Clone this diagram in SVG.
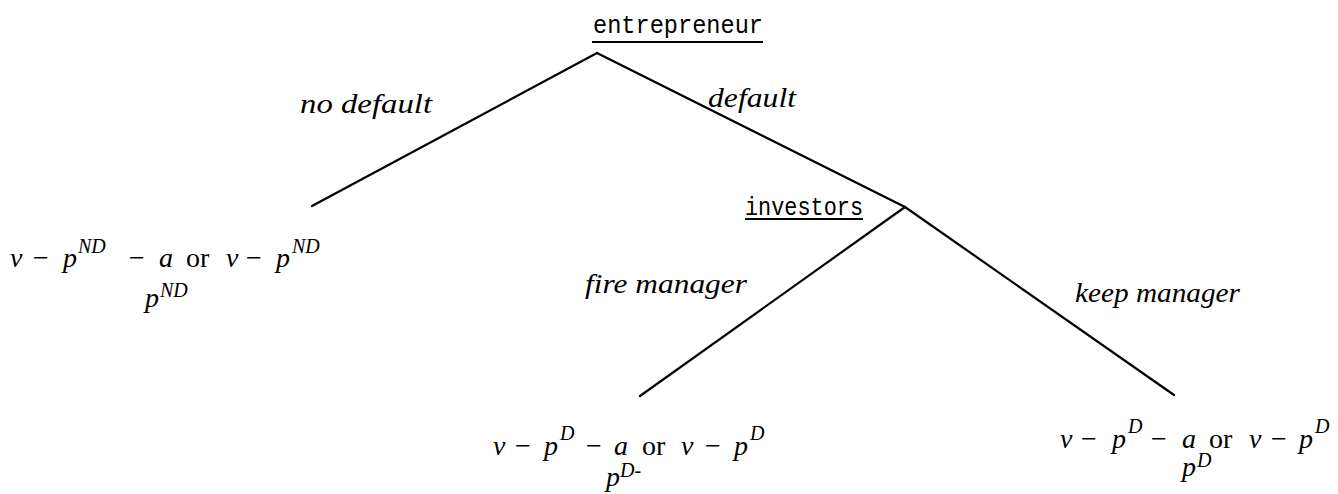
<svg xmlns="http://www.w3.org/2000/svg" width="1338" height="494" viewBox="0 0 1338 494">
<style>
.edge{stroke:#000;stroke-width:2.2;fill:none;stroke-linecap:round}
.lbl{font-family:"Liberation Serif",serif;font-style:italic;font-size:27px;fill:#000}
.name{font-family:"Liberation Mono","DejaVu Sans Mono",monospace;font-size:26px;fill:#000}
.math{font-family:"Liberation Serif",serif;font-size:28px;fill:#000}
.it{font-style:italic}
.sup{font-size:20px;font-style:italic}
.ul{stroke:#000;stroke-width:2}
</style>
<rect width="1338" height="494" fill="#fff"/>
<g id="connectors">
<line class="edge" x1="597" y1="53" x2="312" y2="206"/>
<line class="edge" x1="597" y1="53" x2="905" y2="207"/>
<line class="edge" x1="905" y1="207" x2="640" y2="396"/>
<line class="edge" x1="905" y1="207" x2="1174" y2="395"/>
<text class="lbl" x="300" y="113" textLength="132" lengthAdjust="spacingAndGlyphs">no default</text>
<text class="lbl" x="708" y="107" textLength="88" lengthAdjust="spacingAndGlyphs">default</text>
<text class="lbl" x="585" y="293" textLength="162" lengthAdjust="spacingAndGlyphs">fire manager</text>
<text class="lbl" x="1075" y="302" textLength="165" lengthAdjust="spacingAndGlyphs">keep manager</text>
</g>
<g id="entrepreneur">
<text class="name" x="593" y="33" textLength="170" lengthAdjust="spacingAndGlyphs">entrepreneur</text>
<line class="ul" x1="592" y1="42" x2="763" y2="42"/>
</g>
<g id="investors">
<text class="name" x="745" y="215" textLength="118" lengthAdjust="spacingAndGlyphs">investors</text>
<line class="ul" x1="745" y1="219" x2="863" y2="219"/>
</g>
<g id="leaf-nodefault">
<text class="math"><tspan class="it" x="10" y="267">v</tspan><tspan x="33" y="267">−</tspan><tspan class="it" x="63" y="267">p</tspan><tspan class="sup" x="78" y="253">ND</tspan><tspan x="129" y="267">−</tspan><tspan class="it" x="159" y="267">a</tspan><tspan x="186" y="267">or</tspan><tspan class="it" x="226" y="267">v</tspan><tspan x="246" y="267">−</tspan><tspan class="it" x="276" y="267">p</tspan><tspan class="sup" x="292" y="253">ND</tspan></text>
<text class="math"><tspan class="it" x="145" y="307">p</tspan><tspan class="sup" x="160" y="297">ND</tspan></text>
</g>
<g id="leaf-fire">
<text class="math"><tspan class="it" x="493" y="455">v</tspan><tspan x="515" y="455">−</tspan><tspan class="it" x="544" y="455">p</tspan><tspan class="sup" x="560" y="440">D</tspan><tspan x="586" y="455">−</tspan><tspan class="it" x="614" y="455">a</tspan><tspan x="642" y="455">or</tspan><tspan class="it" x="681" y="455">v</tspan><tspan x="705" y="455">−</tspan><tspan class="it" x="734" y="455">p</tspan><tspan class="sup" x="750" y="440">D</tspan></text>
<text class="math"><tspan class="it" x="606" y="486">p</tspan><tspan class="sup" x="620" y="477">D-</tspan></text>
</g>
<g id="leaf-keep">
<text class="math"><tspan class="it" x="1060" y="448">v</tspan><tspan x="1081" y="448">−</tspan><tspan class="it" x="1112" y="448">p</tspan><tspan class="sup" x="1128" y="433">D</tspan><tspan x="1151" y="448">−</tspan><tspan class="it" x="1182" y="448">a</tspan><tspan x="1209" y="448">or</tspan><tspan class="it" x="1249" y="448">v</tspan><tspan x="1271" y="448">−</tspan><tspan class="it" x="1299" y="448">p</tspan><tspan class="sup" x="1315" y="433">D</tspan></text>
<text class="math"><tspan class="it" x="1182" y="476">p</tspan><tspan class="sup" x="1197" y="467">D</tspan></text>
</g>
</svg>
